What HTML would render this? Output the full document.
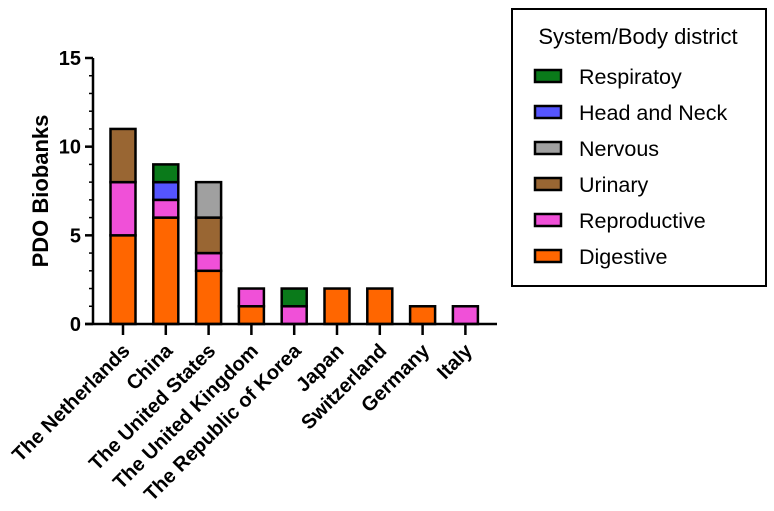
<!DOCTYPE html>
<html><head><meta charset="utf-8"><style>
body{margin:0;background:#fff;}
svg{display:block;font-family:"Liberation Sans",Arial,sans-serif;}
</style></head><body>
<svg id="chart" width="774" height="511" viewBox="0 0 774 511">
<g id="plot"></g>
<text x="48" y="191" transform="rotate(-90 48 191)" text-anchor="middle" font-size="22" font-weight="bold">PDO Biobanks</text>
<g>
<rect x="512" y="9" width="254" height="277" fill="#fff" stroke="#000" stroke-width="2"/>
<text x="638" y="44" text-anchor="middle" font-size="22">System/Body district</text>
<g id="legendItems"></g>
</g>
</svg>
<script>
const categories=["The Netherlands","China","The United States","The United Kingdom","The Republic of Korea","Japan","Switzerland","Germany","Italy"];
const seriesNames=["Digestive","Reproductive","Urinary","Nervous","Head and Neck","Respiratoy"];
const digestive=[5,6,3,1,0,2,2,1,0];
const reproductive=[3,1,1,1,1,0,0,0,1];
const urinary=[3,0,2,0,0,0,0,0,0];
const nervous=[0,0,2,0,0,0,0,0,0];
const headNeck=[0,1,0,0,0,0,0,0,0];
const respiratory=[0,1,0,0,1,0,0,0,0];
const yTicks=[0,5,10,15];
const colors=["#ff6600","#f050d8","#996633","#a0a0a0","#5555ff","#0a7a1a"];
const series=[digestive,reproductive,urinary,nervous,headNeck,respiratory];
const NS="http://www.w3.org/2000/svg";
const plot=document.getElementById('plot');
const y0=324,yTop=58,yMax=15;
function y(v){return y0-(v/yMax)*(y0-yTop);}
function x(i){return 123+i*42.8;}
const bw=25;
function el(t,a,p){const e=document.createElementNS(NS,t);for(const k in a)e.setAttribute(k,a[k]);(p||plot).appendChild(e);return e;}
categories.forEach((c,i)=>{
  let base=0;
  series.forEach((s,j)=>{
    const v=s[i]; if(!v)return;
    const r=el('rect',{x:x(i)-bw/2,y:y(base+v),width:bw,height:y(base)-y(base+v),fill:colors[j],stroke:'#000','stroke-width':2.5});
    
    
    base+=v;
  });
  const t=el('line',{x1:x(i),x2:x(i),y1:y0,y2:335,stroke:'#000','stroke-width':2.5});
  
  
  const lx=x(i)+8,ly=352;
  const l=el('text',{x:lx,y:ly,'text-anchor':'end','font-size':20,'font-weight':'bold',transform:`rotate(-45 ${lx} ${ly})`});
  l.textContent=c;
  
  
});
const ax=el('line',{x1:93,x2:93,y1:y0+1,y2:yTop,stroke:'#000','stroke-width':2.5});


const xa=el('line',{x1:85,x2:497,y1:y0,y2:y0,stroke:'#000','stroke-width':2.5});


for(let v=0;v<=yMax;v++){
  const m=el('line',{x1:v%5==0?85:89,x2:93,y1:y(v),y2:y(v),stroke:'#000','stroke-width':v%5==0?2.5:1.5});
  
  
}
yTicks.forEach(v=>{
  const t=el('text',{x:81,y:y(v)+7,'text-anchor':'end','font-size':20,'font-weight':'bold'});
  t.textContent=v;
  
  
});
const lg=document.getElementById('legendItems');
const order=[5,4,3,2,1,0];
order.forEach((j,k)=>{
  const cy=76+k*36;
  const r=el('rect',{x:535,y:cy-6,width:26,height:12,fill:colors[j],stroke:'#000','stroke-width':2.5},lg);
  
  
  const t=el('text',{x:579,y:cy+8,'font-size':21.5},lg);
  t.textContent=seriesNames[j];
  
  
});
</script>
</body></html>
